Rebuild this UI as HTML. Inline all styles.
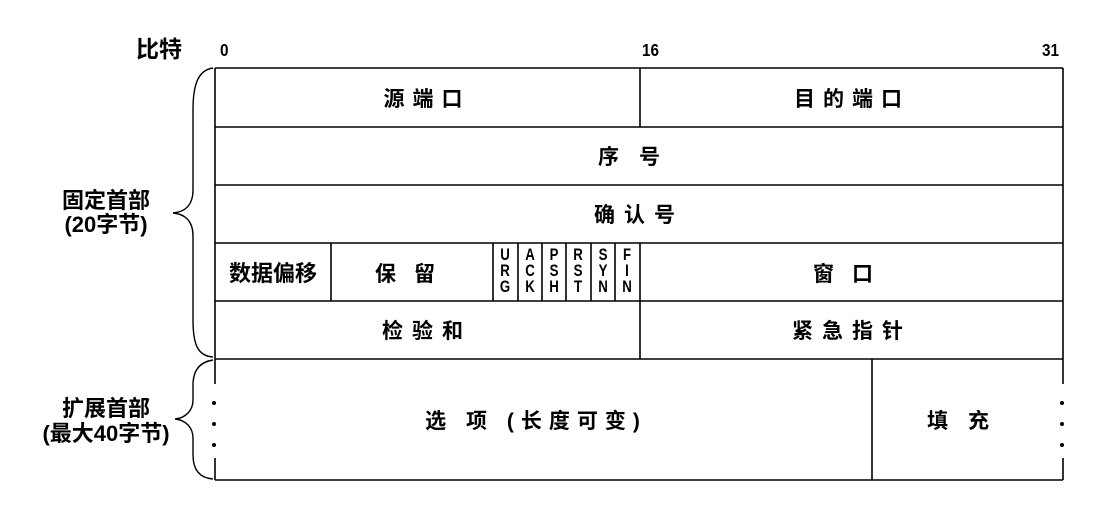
<!DOCTYPE html>
<html><head><meta charset="utf-8"><style>
html,body{margin:0;padding:0;background:#fff;}
svg{display:block;}
text{font-family:"Liberation Sans","Noto Sans CJK SC",sans-serif;font-weight:bold;fill:#000;}
</style></head><body>
<svg width="1094" height="510" viewBox="0 0 1094 510" xmlns="http://www.w3.org/2000/svg">
<g stroke="#000" stroke-width="1.6" fill="none">
<line x1="215" y1="68" x2="1063" y2="68"/>
<line x1="215" y1="127" x2="1063" y2="127"/>
<line x1="215" y1="185" x2="1063" y2="185"/>
<line x1="215" y1="243" x2="1063" y2="243"/>
<line x1="215" y1="301" x2="1063" y2="301"/>
<line x1="215" y1="359" x2="1063" y2="359"/>
<line x1="215" y1="480" x2="1063" y2="480"/>
<line x1="215" y1="68" x2="215" y2="384"/>
<line x1="215" y1="458" x2="215" y2="480"/>
<line x1="1063" y1="68" x2="1063" y2="384"/>
<line x1="1063" y1="458" x2="1063" y2="480"/>
<line x1="640" y1="68" x2="640" y2="127"/>
<line x1="640" y1="243" x2="640" y2="359"/>
<line x1="331" y1="243" x2="331" y2="301"/>
<line x1="493" y1="243" x2="493" y2="301"/>
<line x1="518" y1="243" x2="518" y2="301"/>
<line x1="542" y1="243" x2="542" y2="301"/>
<line x1="566" y1="243" x2="566" y2="301"/>
<line x1="591" y1="243" x2="591" y2="301"/>
<line x1="615" y1="243" x2="615" y2="301"/>
<line x1="872" y1="359" x2="872" y2="480"/>
<path d="M213,68 C198,70 193,85 193,110 L193,190 C193,205 185,212 173,213 C185,214 193,221 193,236 L193,320 C193,345 198,356 213,357" stroke-width="1.4"/>
<path d="M213,360 C200,362 193,370 193,385 L193,400 C193,410 186,418 175,419 C186,420 193,428 193,438 L193,455 C193,470 200,478 213,479" stroke-width="1.4"/>
</g>
<g fill="#000">
<circle cx="214" cy="403" r="2"/><circle cx="214" cy="424" r="2"/><circle cx="214" cy="445" r="2"/>
<circle cx="1062" cy="403" r="2"/><circle cx="1062" cy="424" r="2"/><circle cx="1062" cy="445" r="2"/>
</g>
<text x="136" y="57" font-size="23">比特</text>
<text x="220" y="56" font-size="18" transform="translate(220,0) scale(0.85,1) translate(-220,0)">0</text>
<text x="642" y="56" font-size="18" transform="translate(642,0) scale(0.85,1) translate(-642,0)">16</text>
<text x="1042" y="56" font-size="18" transform="translate(1042,0) scale(0.85,1) translate(-1042,0)">31</text>
<g font-size="21" text-anchor="middle">
<text x="427" y="106" letter-spacing="8">源端口</text>
<text x="852" y="106" letter-spacing="8">目的端口</text>
<text x="639" y="164" letter-spacing="20">序号</text>
<text x="639" y="222" letter-spacing="9">确认号</text>
<text x="273" y="281" font-size="22">数据偏移</text>
<text x="414" y="281" letter-spacing="18">保留</text>
<text x="852" y="281" letter-spacing="18">窗口</text>
<text x="427" y="338" letter-spacing="9">检验和</text>
<text x="852" y="338" letter-spacing="9">紧急指针</text>
<text x="536" y="428" letter-spacing="7">选 项 (长度可变)</text>
<text x="968" y="428" letter-spacing="20">填充</text>
<text x="106" y="208" font-size="22">固定首部</text>
<text x="106" y="232" font-size="22">(20字节)</text>
<text x="106" y="416" font-size="22">扩展首部</text>
<text x="106" y="441" font-size="22">(最大40字节)</text>
</g>
<g font-size="17" text-anchor="middle">
<g transform="translate(505,0) scale(0.78,1)"><text x="0" y="260">U</text><text x="0" y="276">R</text><text x="0" y="292">G</text></g>
<g transform="translate(530,0) scale(0.78,1)"><text x="0" y="260">A</text><text x="0" y="276">C</text><text x="0" y="292">K</text></g>
<g transform="translate(554,0) scale(0.78,1)"><text x="0" y="260">P</text><text x="0" y="276">S</text><text x="0" y="292">H</text></g>
<g transform="translate(578,0) scale(0.78,1)"><text x="0" y="260">R</text><text x="0" y="276">S</text><text x="0" y="292">T</text></g>
<g transform="translate(603,0) scale(0.78,1)"><text x="0" y="260">S</text><text x="0" y="276">Y</text><text x="0" y="292">N</text></g>
<g transform="translate(627,0) scale(0.78,1)"><text x="0" y="260">F</text><text x="0" y="276">I</text><text x="0" y="292">N</text></g>
</g>
</svg>
</body></html>
